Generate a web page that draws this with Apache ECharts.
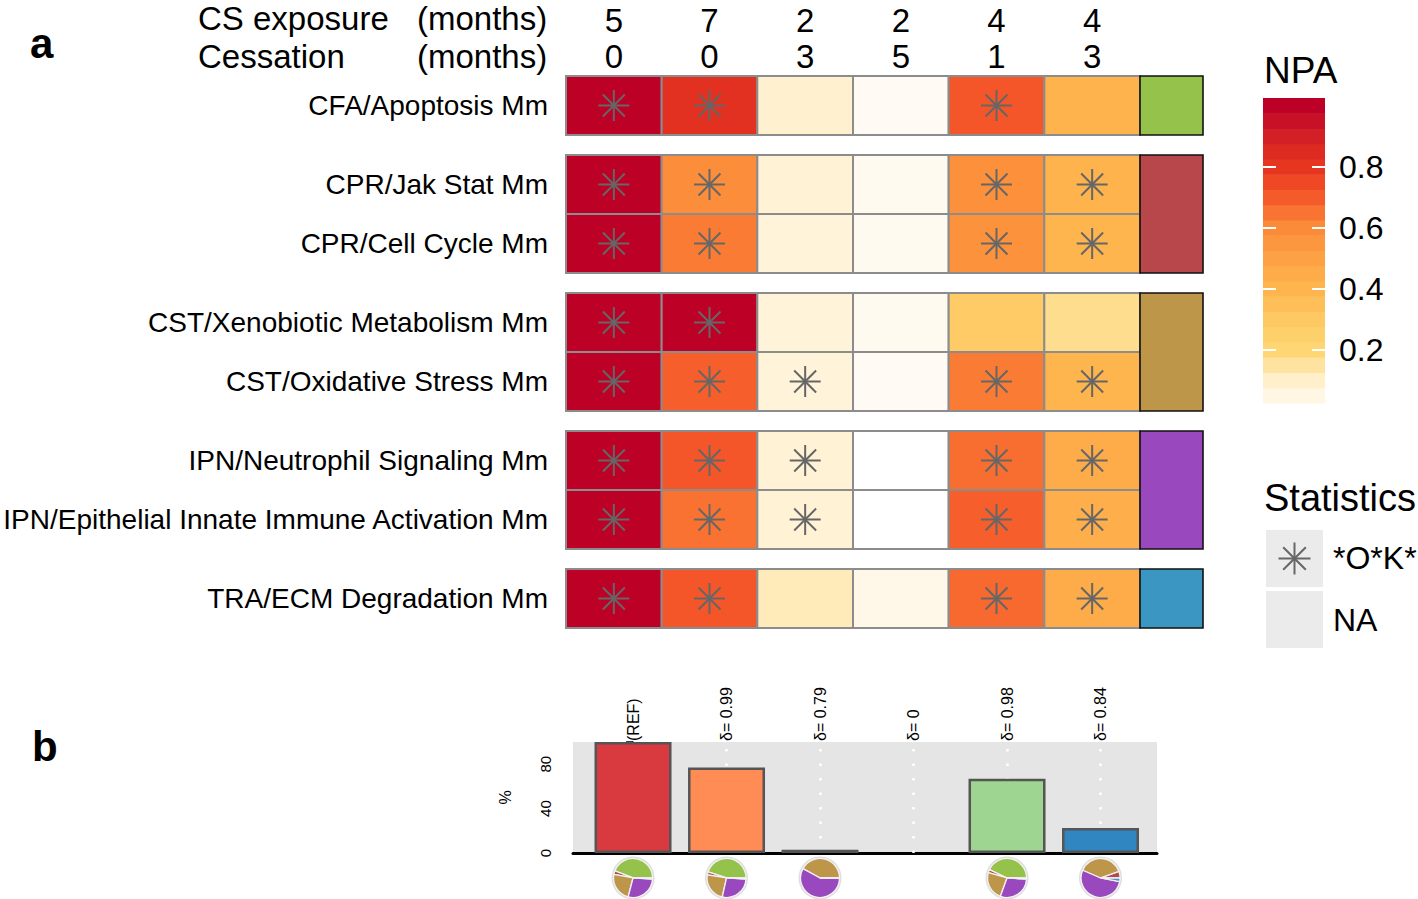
<!DOCTYPE html>
<html>
<head>
<meta charset="utf-8">
<script src="https://cdn.jsdelivr.net/npm/echarts@6/dist/echarts.min.js"></script>
<style>
  html, body { margin: 0; padding: 0; background: #ffffff; }
  #chart { width: 1418px; height: 899px; }
</style>
</head>
<body>
<div id="chart"></div>
<script>
// ---------------- DATA ----------------
const exposureMonths = [5, 7, 2, 2, 4, 4];
const cessationMonths = [0, 0, 3, 5, 1, 3];
const groups = ['CFA', 'CPR', 'CST', 'IPN', 'TRA'];
const rowNames = [
  'CFA/Apoptosis Mm',
  'CPR/Jak Stat Mm',
  'CPR/Cell Cycle Mm',
  'CST/Xenobiotic Metabolism Mm',
  'CST/Oxidative Stress Mm',
  'IPN/Neutrophil Signaling Mm',
  'IPN/Epithelial Innate Immune Activation Mm',
  'TRA/ECM Degradation Mm'
];
const rowGroup = [0, 1, 1, 2, 2, 3, 3, 4];
const npaValues = [
  [1.00, 0.82, 0.09, 0.02, 0.71, 0.41],
  [1.00, 0.59, 0.08, 0.03, 0.58, 0.41],
  [1.00, 0.63, 0.07, 0.03, 0.57, 0.40],
  [1.00, 1.00, 0.07, 0.03, 0.28, 0.17],
  [1.00, 0.69, 0.07, 0.02, 0.63, 0.40],
  [1.00, 0.71, 0.08, 0.00, 0.66, 0.45],
  [1.00, 0.65, 0.08, 0.00, 0.69, 0.43],
  [1.00, 0.71, 0.12, 0.04, 0.67, 0.45]
];
const significant = [
  [1, 1, 0, 0, 1, 0],
  [1, 1, 0, 0, 1, 1],
  [1, 1, 0, 0, 1, 1],
  [1, 1, 0, 0, 0, 0],
  [1, 1, 1, 0, 1, 1],
  [1, 1, 1, 0, 1, 1],
  [1, 1, 1, 0, 1, 1],
  [1, 1, 0, 0, 1, 1]
];
const npaTicks = [0.2, 0.4, 0.6, 0.8];
const npaRange = [0.025, 1.025];
const npaSteps = 20;

const barPercent = [100, 77, 3, 0, 67, 22.5];
const deltaLabels = ['(REF)', 'δ= 0.99', 'δ= 0.79', 'δ= 0', 'δ= 0.98', 'δ= 0.84'];
const pctTicks = [0, 20, 40, 60, 80, 100];
const pctLabels = [0, 40, 80];
// pie shares per bar, in group order CFA, CPR, CST, IPN, TRA (null = no pie)
const pieShares = [
  [44, 3, 24, 28, 1],
  [45, 2.5, 24, 27.5, 1],
  [0, 0, 42, 58, 0],
  null,
  [43, 2.5, 24, 29.5, 1],
  [0, 5.5, 38, 53.5, 3]
];

// ---------------- STYLE ----------------
const FONT = 'Liberation Sans, Arial, Helvetica, sans-serif';
const groupColors = ['#95C24A', '#B8474B', '#BE9649', '#9A48BE', '#3C96C2'];
const barColors = ['#D83A40', '#FF8B55', '#EFCB78', '#cccccc', '#9ED691', '#2F86C0'];
const colorStops = [
  [0.00, '#FFFFFF'], [0.05, '#FFF6E4'], [0.10, '#FFEFCB'], [0.15, '#FEE3A0'],
  [0.20, '#FED774'], [0.30, '#FEC863'], [0.40, '#FEB54E'], [0.50, '#FDA244'],
  [0.60, '#FC8B39'], [0.70, '#F55A2A'], [0.80, '#E6361F'], [0.90, '#D31F26'],
  [1.00, '#BD0026']
];
function hexToRgb(h) { return [parseInt(h.substr(1,2),16), parseInt(h.substr(3,2),16), parseInt(h.substr(5,2),16)]; }
function npaColor(v) {
  if (v <= colorStops[0][0]) return colorStops[0][1];
  for (let i = 1; i < colorStops.length; i++) {
    if (v <= colorStops[i][0]) {
      const [a, ca] = colorStops[i-1], [b, cb] = colorStops[i];
      const t = (v - a) / (b - a);
      const A = hexToRgb(ca), B = hexToRgb(cb);
      const c = A.map((x, k) => Math.round(x + (B[k] - x) * t));
      return 'rgb(' + c.join(',') + ')';
    }
  }
  return colorStops[colorStops.length - 1][1];
}

// layout helpers (heatmap units: one cell = 1 x 1)
const GAP = 20 / 59;
const GROUP_COL_W = 63 / (574 / 6);
const X_MAX = 6 + GROUP_COL_W;
function rowTop(r) { return r + rowGroup[r] * GAP; }
const Y_MAX = rowTop(rowNames.length - 1) + 1;

function starLines(cx, cy, r, color, lw) {
  const out = [];
  for (let k = 0; k < 4; k++) {
    const a = k * Math.PI / 4;
    const dx = Math.cos(a) * r, dy = Math.sin(a) * r;
    out.push({ type: 'line', shape: { x1: cx - dx, y1: cy - dy, x2: cx + dx, y2: cy + dy },
      style: { stroke: color, lineWidth: lw } });
  }
  return out;
}

// ---------------- SERIES DATA ----------------
const cellData = [];
npaValues.forEach((row, r) => row.forEach((v, c) => cellData.push([c, r, v, significant[r][c]])));
const groupData = groups.map((g, i) => [i]);
const stepData = [];
for (let k = 0; k < npaSteps; k++) {
  const lo = npaRange[0] + k * (npaRange[1] - npaRange[0]) / npaSteps;
  const hi = lo + (npaRange[1] - npaRange[0]) / npaSteps;
  stepData.push([lo, hi, (lo + hi) / 2]);
}

const chart = echarts.init(document.getElementById('chart'), null, { renderer: 'svg' });

const baseSeries = [
  {
    type: 'custom', xAxisIndex: 0, yAxisIndex: 0, data: cellData, silent: true,
    renderItem(params, api) {
      const c = api.value(0), r = api.value(1), v = api.value(2), s = api.value(3);
      const y0 = rowTop(r);
      const p0 = api.coord([c, y0]), p1 = api.coord([c + 1, y0 + 1]);
      const children = [{
        type: 'rect',
        shape: { x: p0[0], y: p0[1], width: p1[0] - p0[0], height: p1[1] - p0[1] },
        style: { fill: npaColor(v), stroke: '#8c8c8c', lineWidth: 2 }
      }];
      if (s) children.push(...starLines((p0[0] + p1[0]) / 2, (p0[1] + p1[1]) / 2, 15.5, '#666666', 2));
      return { type: 'group', children };
    }
  },
  {
    type: 'custom', xAxisIndex: 0, yAxisIndex: 0, data: groupData, silent: true,
    renderItem(params, api) {
      const g = api.value(0);
      const rows = rowGroup.map((gg, i) => gg === g ? i : -1).filter(i => i >= 0);
      const p0 = api.coord([6, rowTop(rows[0])]);
      const p1 = api.coord([X_MAX, rowTop(rows[rows.length - 1]) + 1]);
      return { type: 'rect',
        shape: { x: p0[0], y: p0[1], width: p1[0] - p0[0], height: p1[1] - p0[1] },
        style: { fill: groupColors[g], stroke: '#111111', lineWidth: 1.6 } };
    }
  },
  {
    type: 'custom', xAxisIndex: 2, yAxisIndex: 1, data: stepData, silent: true,
    renderItem(params, api) {
      const p0 = api.coord([0, api.value(1)]), p1 = api.coord([1, api.value(0)]);
      return { type: 'rect',
        shape: { x: p0[0], y: p0[1], width: p1[0] - p0[0], height: p1[1] - p0[1] + 0.5 },
        style: { fill: npaColor(api.value(2)) } };
    }
  },
  {
    type: 'line', xAxisIndex: 3, yAxisIndex: 3, data: [], silent: true, z: 1,
    markLine: {
      silent: true, symbol: 'none', z: 1, label: { show: false },
      lineStyle: { color: '#ffffff', width: 2.5, type: [2.5, 12] },
      data: barPercent.map((v, i) => ({ xAxis: i })).slice(1)
    }
  },
  {
    type: 'bar', xAxisIndex: 3, yAxisIndex: 3, barWidth: 77, z: 3, silent: true,
    data: barPercent.map((v, i) => ({ value: [i, v],
      itemStyle: { color: barColors[i], borderColor: '#555555', borderWidth: v > 0 ? 2.5 : 0 } }))
  }
];

const topLabelBase = { fontSize: 33, lineHeight: 32, color: '#000', fontFamily: FONT };

const option = {
  animation: false,
  backgroundColor: '#ffffff',
  textStyle: { fontFamily: FONT, color: '#000' },
  grid: [
    { left: 566, top: 76, width: 637, height: 552, containLabel: false, outerBoundsMode: 'none' },
    { left: 1263, top: 98, width: 62, height: 305, containLabel: false, outerBoundsMode: 'none' },
    { left: 573, top: 742, width: 584, height: 111, show: true, backgroundColor: '#E5E5E5', borderWidth: 0, containLabel: false, outerBoundsMode: 'none' }
  ],
  xAxis: [
    // exposure row (upper header line)
    { gridIndex: 0, type: 'value', position: 'top', min: 0, max: X_MAX,
      axisLine: { show: false }, axisTick: { show: false }, splitLine: { show: false },
      axisLabel: Object.assign({ customValues: exposureMonths.map((v, i) => i + 0.5), margin: 40,
        formatter: v => String(exposureMonths[Math.round(v - 0.5)]) }, topLabelBase) },
    // cessation row (lower header line)
    { gridIndex: 0, type: 'value', position: 'top', min: 0, max: X_MAX,
      axisLine: { show: false }, axisTick: { show: false }, splitLine: { show: false },
      axisLabel: Object.assign({ customValues: cessationMonths.map((v, i) => i + 0.5), margin: 4,
        formatter: v => String(cessationMonths[Math.round(v - 0.5)]) }, topLabelBase) },
    { gridIndex: 1, type: 'value', min: 0, max: 1, show: false },
    { gridIndex: 2, type: 'value', min: -0.642, max: 5.604,
      axisLine: { show: true, onZero: false, lineStyle: { color: '#000', width: 3 } },
      axisTick: { show: false }, axisLabel: { show: false }, splitLine: { show: false } },
    { gridIndex: 2, type: 'value', position: 'top', min: -0.642, max: 5.604,
      axisLine: { show: false }, axisTick: { show: false }, splitLine: { show: false },
      axisLabel: { customValues: deltaLabels.map((d, i) => i), rotate: 90, margin: 1,
        fontSize: 16, color: '#000', fontFamily: FONT,
        formatter: v => deltaLabels[Math.round(v)] } }
  ],
  yAxis: [
    { gridIndex: 0, type: 'value', inverse: true, min: 0, max: Y_MAX,
      axisLine: { show: false }, axisTick: { show: false }, splitLine: { show: false },
      axisLabel: { customValues: rowNames.map((n, r) => rowTop(r) + 0.5), margin: 18,
        fontSize: 28, color: '#000', fontFamily: FONT,
        formatter: v => { const r = rowNames.findIndex((n, i) => Math.abs(rowTop(i) + 0.5 - v) < 1e-6); return r >= 0 ? rowNames[r] : ''; } } },
    { gridIndex: 1, type: 'value', position: 'left', min: npaRange[0], max: npaRange[1], z: 5,
      axisLine: { show: false }, splitLine: { show: false }, axisLabel: { show: false },
      axisTick: { show: true, inside: true, length: 13, customValues: npaTicks, lineStyle: { color: '#ffffff', width: 2 } } },
    { gridIndex: 1, type: 'value', position: 'right', min: npaRange[0], max: npaRange[1], z: 5,
      axisLine: { show: false }, splitLine: { show: false },
      axisTick: { show: true, inside: true, length: 13, customValues: npaTicks, lineStyle: { color: '#ffffff', width: 2 } },
      axisLabel: { customValues: npaTicks, margin: 14, fontSize: 32, color: '#000', fontFamily: FONT,
        formatter: v => v.toFixed(1) } },
    { gridIndex: 2, type: 'value', min: 0, max: 100, interval: 20,
      name: '%', nameLocation: 'middle', nameGap: 60, nameRotate: 90,
      nameTextStyle: { fontSize: 16, color: '#000', fontFamily: FONT },
      axisLine: { show: true, lineStyle: { color: '#000', width: 1.5 } },
      axisTick: { show: true, length: 7, customValues: pctTicks, lineStyle: { color: '#000', width: 1.5 } },
      splitLine: { show: false },
      axisLabel: { customValues: pctLabels, rotate: 90, margin: 20, fontSize: 15, color: '#000', fontFamily: FONT } }
  ],
  graphic: [
    { type: 'text', left: 30, top: 22, style: { text: 'a', fontSize: 42, fontWeight: 'bold', fontFamily: FONT, fill: '#000' } },
    { type: 'text', left: 32, top: 725, style: { text: 'b', fontSize: 42, fontWeight: 'bold', fontFamily: FONT, fill: '#000' } },
    { type: 'text', x: 198, y: 18, style: { text: 'CS exposure', fontSize: 33, lineHeight: 33, fontFamily: FONT, fill: '#000', verticalAlign: 'middle' } },
    { type: 'text', x: 417, y: 18, style: { text: '(months)', fontSize: 33, lineHeight: 33, fontFamily: FONT, fill: '#000', verticalAlign: 'middle' } },
    { type: 'text', x: 198, y: 56, style: { text: 'Cessation', fontSize: 33, lineHeight: 33, fontFamily: FONT, fill: '#000', verticalAlign: 'middle' } },
    { type: 'text', x: 417, y: 56, style: { text: '(months)', fontSize: 33, lineHeight: 33, fontFamily: FONT, fill: '#000', verticalAlign: 'middle' } },
    { type: 'text', x: 1264, y: 70, style: { text: 'NPA', fontSize: 37, fontFamily: FONT, fill: '#000', verticalAlign: 'middle' } },
    { type: 'text', x: 1264, y: 498, style: { text: 'Statistics', fontSize: 38, fontFamily: FONT, fill: '#000', verticalAlign: 'middle' } },
    { type: 'rect', shape: { x: 1266, y: 530, width: 57, height: 57 }, style: { fill: '#EBEBEB' } },
    { type: 'rect', shape: { x: 1266, y: 591, width: 57, height: 57 }, style: { fill: '#EBEBEB' } },
    { type: 'group', children: starLines(1294.5, 558.5, 16, '#666666', 2) },
    { type: 'text', x: 1333, y: 558, style: { text: '*O*K*', fontSize: 32, fontFamily: FONT, fill: '#000', verticalAlign: 'middle' } },
    { type: 'text', x: 1333, y: 620, style: { text: 'NA', fontSize: 32, fontFamily: FONT, fill: '#000', verticalAlign: 'middle' } }
  ],
  series: baseSeries
};

chart.setOption(option);

// pies placed under bars using the bar chart's own axes
const pieSeries = [];
pieShares.forEach((shares, i) => {
  if (!shares) return;
  const cx = chart.convertToPixel({ xAxisIndex: 3 }, i);
  const cy = chart.convertToPixel({ yAxisIndex: 3 }, -22.5);
  pieSeries.push({
    type: 'pie', center: [cx, cy], radius: 21.5, silent: true, z: 2,
    label: { show: false }, labelLine: { show: false },
    data: [{ value: 1, itemStyle: { color: '#dedede' } }]
  });
  pieSeries.push({
    type: 'pie', center: [cx, cy], radius: 19.5, startAngle: 0, clockwise: false, silent: true, z: 3,
    label: { show: false }, labelLine: { show: false },
    itemStyle: { borderColor: '#f2f2f2', borderWidth: 1.3 },
    data: shares.map((v, k) => ({ value: v, name: groups[k], itemStyle: { color: groupColors[k] } }))
  });
});
chart.setOption({ series: baseSeries.concat(pieSeries) });
</script>
</body>
</html>
